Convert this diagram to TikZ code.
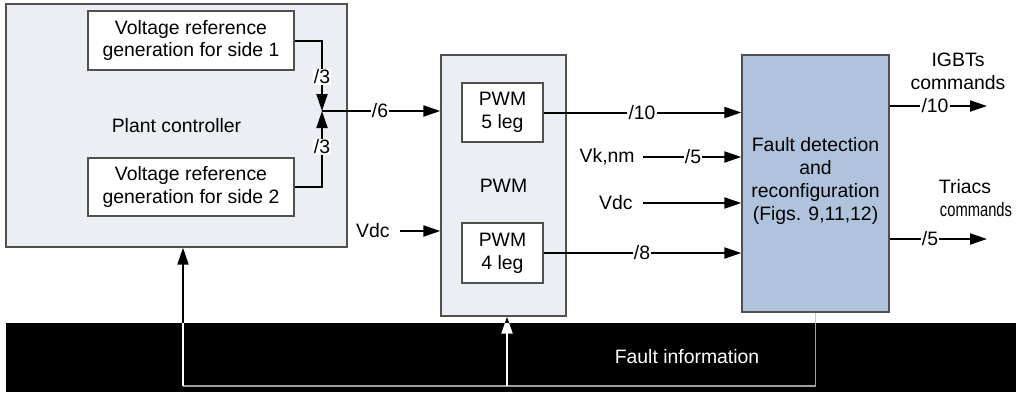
\documentclass[tikz,border=0pt]{standalone}
\usepackage{fontspec}
\setmainfont{Liberation Sans}
\usetikzlibrary{arrows.meta}
\definecolor{boxfill}{HTML}{EBEEF3}
\definecolor{faultfill}{HTML}{B0C3DC}
\definecolor{edge}{HTML}{505050}
\begin{document}
\begin{tikzpicture}[x=0.5pt,y=-0.5pt,
  every node/.style={font=\fontsize{9.7}{11.4}\selectfont},
  blk/.style={draw=edge, line width=0.7pt, inner sep=0pt, align=center},
  conn/.style={line width=1pt},
  arr/.style={conn, -{Triangle[length=8.5pt,width=5.5pt]}},
  lbl/.style={fill=white, inner sep=0.6pt},
  plain/.style={inner sep=0pt}]
\useasboundingbox (0,0) rectangle (1016,398);
% boxes
\node[blk, fill=boxfill, minimum width=170.5pt, minimum height=121.5pt] (plant) at (176.5,125.5) {Plant controller};
\node[blk, fill=white, minimum width=103pt, minimum height=29.5pt] (vr1) at (191,40.5) {Voltage reference\\generation for side 1};
\node[blk, fill=white, minimum width=103pt, minimum height=29pt] (vr2) at (191,187) {Voltage reference\\generation for side 2};
\node[blk, fill=boxfill, minimum width=62.5pt, minimum height=130.5pt] (pwm) at (503.5,185.5) {PWM};
\node[blk, fill=white, minimum width=40.5pt, minimum height=29.5pt] (pwm5) at (502.5,112.5) {PWM\\5 leg};
\node[blk, fill=white, minimum width=40.5pt, minimum height=30pt] (pwm4) at (502.5,253) {PWM\\4 leg};
\node[blk, fill=faultfill, minimum width=73.5pt, minimum height=128.5pt] (fault) at (815.5,183.5) {};
\node[plain, align=center] (faulttxt) at (815.5,181) {Fault detection\\and\\reconfiguration\\(Figs. 9,11,12)};
% junction
\coordinate (j) at (322,111);
\draw[arr] (vr1.east) -| (j);
\draw[arr] (vr2.east) -| (j);
\node[lbl] (l31) at (322,77) {/3};
\node[lbl] (l32) at (322,147) {/3};
\draw[arr] (j) -- (j -| pwm.west);
\node[lbl] (l6) at (380,111) {/6};
% left Vdc
\node[plain, anchor=east] (vdc1) at (390,231) {Vdc};
\draw[arr] ([xshift=5pt]vdc1.east) -- (vdc1.east -| pwm.west);
% PWM outputs
\draw[arr] (pwm5.east) -- (pwm5.east -| fault.west);
\node[lbl] (l10) at (642,112.5) {/10};
\draw[arr] (pwm4.east) -- (pwm4.east -| fault.west);
\node[lbl] (l8) at (642,253) {/8};
% other inputs
\node[plain, anchor=east] (vk) at (635,157) {Vk,nm};
\draw[arr] ([xshift=4pt]vk.east) -- (vk.east -| fault.west);
\node[lbl] (l5) at (693,157) {/5};
\node[plain, anchor=east] (vdc2) at (633,203) {Vdc};
\draw[arr] ([xshift=5pt]vdc2.east) -- (vdc2.east -| fault.west);
% outputs
\coordinate (o1) at (987,106);
\coordinate (o2) at (987,239);
\draw[arr] (o1 -| fault.east) -- (o1);
\node[lbl] (lo10) at (935,106) {/10};
\draw[arr] (o2 -| fault.east) -- (o2);
\node[lbl] (lo5) at (930,239) {/5};
\node[plain, align=center] (igbt) at (958,71.5) {IGBTs\\commands};
\node[plain] (triacs) at (965,187) {Triacs};
\node[plain] (tcmd) at (976,210) {\scalebox{0.76}[1]{commands}};
% fault information band
\fill[black] (6,323) rectangle (1016,392);
\node[plain, text=white] (finfo) at (687,357) {Fault information};
\coordinate (bl) at (183,386);
\coordinate (bm) at (507,386);
\begin{scope}
\clip (0,0) rectangle (1016,323);
\draw[line width=0.6pt, draw=gray!45] (fault.south) -- (fault.south |- bl);
\draw[arr, black] (bl) -- (bl |- plant.south);
\draw[arr, black] (bm) -- (bm |- pwm.south);
\end{scope}
\begin{scope}
\clip (0,323) rectangle (1016,398);
\draw[line width=0.6pt, draw=gray!75] (fault.south) -- (fault.south |- bl) -- (bl);
\draw[arr, white] (bl) -- (bl |- plant.south);
\draw[arr, white] (bm) -- (bm |- pwm.south);
\end{scope}
\end{tikzpicture}
\end{document}
